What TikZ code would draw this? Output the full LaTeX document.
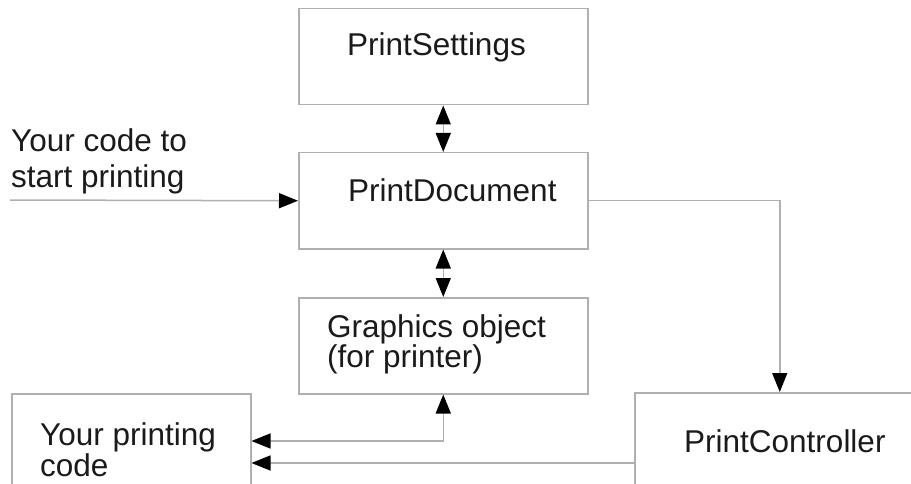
\documentclass[tikz,border=0pt]{standalone}
\usepackage{fontspec}
\setmainfont{Liberation Sans}
\usetikzlibrary{arrows.meta}
\definecolor{linegray}{HTML}{B0B0B0}
\definecolor{txt}{HTML}{1A1A1A}
\tikzset{
  box/.style={draw=linegray, line width=1.5pt, inner sep=0pt, anchor=north west},
  lbl/.style={anchor=base west, inner sep=0pt, text=txt, font=\fontsize{31.5}{36}\selectfont, align=left},
  conn/.style={draw=linegray, line width=1.5pt},
  tip/.tip={Triangle[length=19pt,width=15pt,color=black]},
  fwd/.style={conn, -tip},
  both/.style={conn, tip-tip}
}
\begin{document}
\begin{tikzpicture}[x=1pt,y=-1pt]
\useasboundingbox (0,0) rectangle (911,484);
% boxes
\node[box, minimum width=289pt, minimum height=96pt] (ps) at (298,8) {};
\node[box, minimum width=289pt, minimum height=96pt] (pd) at (298,152) {};
\node[box, minimum width=289pt, minimum height=96pt] (gr) at (298,297) {};
\node[box, minimum width=239pt, minimum height=120pt] (yp) at (11,393) {};
\node[box, minimum width=290pt, minimum height=120pt] (pc) at (634,392) {};
% texts (base anchor = last line's baseline)
\node[lbl] (tps) at (347,56) {PrintSettings};
\node[lbl] (tpd) at (348,201) {PrintDocument};
\node[lbl] (tgr) at (327,367) {Graphics object\\[-6pt](for printer)};
\node[lbl] (tyc) at (11,188) {Your code to\\start printing};
\node[lbl] (typ) at (40,476) {Your printing\\[-5pt]code};
\node[lbl] (tpc) at (684,452) {PrintController};
% connectors
\coordinate (start) at (10,200);
\draw[fwd] (start) -- (pd.west);
\draw[both] (ps.south) -- (pd.north);
\draw[both] (pd.south) -- (gr.north);
\draw[fwd] (pd.east) -| (pc.north);
\draw[both] (gr.south) |- ([yshift=-48pt]yp.north east);
\draw[fwd] ([yshift=-71pt]pc.north west) -- ([yshift=-70pt]yp.north east);
\end{tikzpicture}
\end{document}
